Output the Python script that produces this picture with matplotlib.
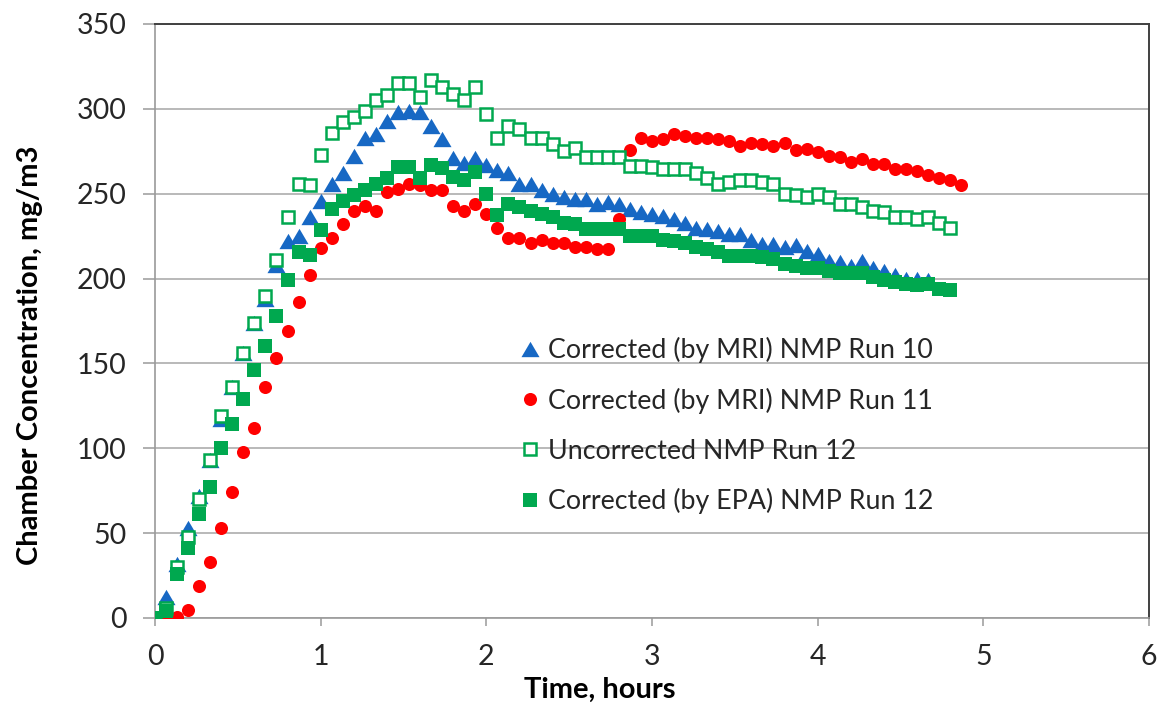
import matplotlib
matplotlib.use("Agg")
import matplotlib.pyplot as plt
import numpy as np

plt.rcParams['font.family'] = ['Lato', 'DejaVu Sans']

# Sampling times (minutes after start), 4-minute intervals
minutes = [0, 4, 8, 12, 16, 20, 24, 28, 32, 36, 40, 44, 48, 52, 56, 60, 64, 68,
           72, 76, 80, 84, 88, 92, 96, 100, 104, 108, 112, 116, 120, 124, 128,
           132, 136, 140, 144, 148, 152, 156, 160, 164, 168, 172, 176, 180, 184,
           188, 192, 196, 200, 204, 208, 212, 216, 220, 224, 228, 232, 236, 240,
           244, 248, 252, 256, 260, 264, 268, 272, 276, 280, 284, 288, 292]

# Chamber concentrations, mg/m3
run10_mri = [0, 12.5, 32, 53, 72, 93, 117, 136, 156, 174, 188, 208, 222, 225,
             236, 246, 256, 262, 272, 283, 285, 293, 298, 299, 298, 290, 282,
             271, 268, 271, 267, 264, 262, 256, 256, 252, 250, 248, 247, 247,
             244, 245, 244, 241, 239, 238, 237, 235, 233, 230, 229, 228, 226,
             226, 223, 220.5, 220.5, 218.5, 219.5, 216.5, 214.5, 210.5, 209.5,
             207.5, 210.5, 206.5, 204.5, 202, 200, 200, 199]

run11_mri = [0, 0, 0.5, 5, 19, 33, 53, 74, 98, 112, 136, 153, 169, 186, 202,
             218, 224, 232, 240, 243, 240, 251, 253, 256, 255, 252, 252, 243,
             240, 244, 238, 230, 224, 224, 221, 223, 221, 221, 218.5, 218.5,
             217.5, 217.5, 235, 275.5, 283, 281, 282, 285, 284, 283, 283, 282,
             281, 278, 280, 279, 278, 280, 275.5, 276.5, 274.5, 272.5, 271.5,
             268.5, 270.5, 267.5, 267.5, 264.5, 264.5, 263.5, 261, 259, 258, 255]

run12_uncorr = [0, 6, 30, 48, 70, 93, 119, 136, 156, 174, 190, 211, 236, 256,
                255, 273, 286, 292, 295, 299, 305, 308, 315, 315, 307, 317, 313,
                309, 305, 313, 297, 283, 290, 288, 283, 283, 279, 275, 277,
                271.5, 271.5, 271.5, 271.5, 266.5, 266.5, 265.5, 264.5, 264.5,
                264.5, 262, 259, 256, 257, 258, 258, 257, 256, 250, 249, 248,
                250, 248, 244, 244, 242, 240, 239, 236, 236, 235, 236, 233, 230]

run12_epa = [0, 4, 26, 41, 61, 77, 100, 114.5, 129, 146, 160, 178, 199, 215.5,
             214, 228.5, 241, 246, 249, 252, 256, 259, 266, 266, 259, 267, 265,
             260, 258, 263, 250, 237.5, 244, 242, 240, 238, 236, 233, 232, 229,
             229, 229, 229, 225, 225, 225, 223, 222, 221, 218.5, 217.5, 215.5,
             213.5, 213.5, 213.5, 212.5, 211.5, 208.5, 207.5, 206.5, 206.5,
             204.5, 203, 203, 203, 201, 199, 198, 197, 196, 197, 194, 193]

labels = ["Corrected (by MRI) NMP Run 10",
          "Corrected (by MRI) NMP Run 11",
          "Uncorrected NMP Run 12",
          "Corrected (by EPA) NMP Run 12"]

x_ticks = [0, 1, 2, 3, 4, 5, 6]
y_ticks = [0, 50, 100, 150, 200, 250, 300, 350]

BLUE = "#1768c4"
RED = "#ff0000"
GREEN = "#00a84f"

W, H = 1160, 706
hours = np.array(minutes) / 60.0

fig = plt.figure(figsize=(W / 100, H / 100), dpi=100)
ax = fig.add_axes([155 / W, 1 - 618 / H, (1149 - 155) / W, (618 - 24) / H])

# wide, flat triangle marker
tri = [(0, 0.85), (-1, -0.85), (1, -0.85), (0, 0.85)]

ax.plot(hours[:len(run10_mri)], run10_mri, linestyle="none", marker=tri,
        markersize=13, color=BLUE, markeredgewidth=0, label=labels[0], zorder=3)
ax.plot(hours[:len(run11_mri)], run11_mri, linestyle="none", marker="o",
        markersize=9.4, color=RED, markeredgewidth=0, label=labels[1], zorder=4)
ax.plot(hours[:len(run12_uncorr)], run12_uncorr, linestyle="none", marker="s",
        markersize=8.2, markerfacecolor="white", markeredgecolor=GREEN,
        markeredgewidth=1.8, label=labels[2], zorder=5)
ax.plot(hours[:len(run12_epa)], run12_epa, linestyle="none", marker="s",
        markersize=9.8, color=GREEN, markeredgewidth=0, label=labels[3], zorder=6)

ax.set_xlim(0, 6)
ax.set_ylim(0, 350)
ax.set_xticks(x_ticks)
ax.set_yticks(y_ticks)
ax.set_xticklabels([str(v) for v in x_ticks])
ax.set_yticklabels([str(v) for v in y_ticks])

ax.yaxis.grid(True, color="#a6a6a6", linewidth=1.1, zorder=0)
ax.set_axisbelow(True)

for side in ("left", "bottom"):
    ax.spines[side].set_color("#9a9a9a")
    ax.spines[side].set_linewidth(1.2)
for side in ("top", "right"):
    ax.spines[side].set_color("#404040")
    ax.spines[side].set_linewidth(1.4)

ax.tick_params(axis="y", direction="out", length=8.5, width=1.1, color="#9a9a9a",
               labelsize=20.5, pad=12, labelcolor="#262626")
ax.tick_params(axis="x", direction="out", length=6, width=1.1, color="#9a9a9a",
               labelsize=20.5, pad=13, labelcolor="#262626")

ax.set_xlabel("Time, hours", fontsize=21, fontweight="bold")
ax.set_ylabel("Chamber Concentration, mg/m3", fontsize=21, fontweight="bold")
ax.xaxis.set_label_coords((600 - 155) / 994, -(690 - 618) / 594)
ax.yaxis.set_label_coords(-(155 - 30) / 994, (618 - 355) / 594)
ax.xaxis.label.set_va("center")
ax.yaxis.label.set_va("center")

leg = ax.legend(loc="upper left", bbox_to_anchor=((519 - 155) / 994, (618 - 337) / 594),
                frameon=False, fontsize=19.3, handlelength=0.8, handletextpad=0.3,
                labelspacing=0.92, borderaxespad=0, borderpad=0, markerscale=1.0)
for txt in leg.get_texts():
    txt.set_color("#262626")

fig.savefig("out.png", dpi=100)
